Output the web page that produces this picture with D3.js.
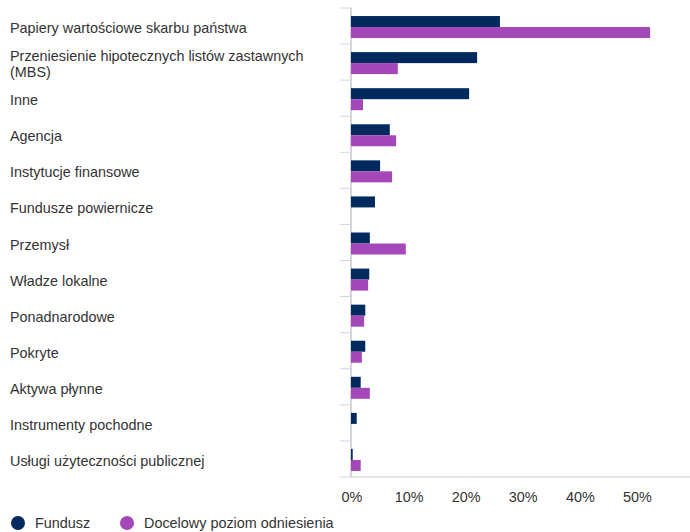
<!DOCTYPE html>
<html>
<head>
<meta charset="utf-8">
<script src="https://cdn.jsdelivr.net/npm/d3@7"></script>
<style>
  body { margin: 0; background: #fff; }
  text { font-family: "Liberation Sans", Arial, sans-serif; }
</style>
</head>
<body>
<svg id="chart" width="690" height="532"></svg>
<script>
// categories and values (percent)
var categories = ["Papiery wartościowe skarbu państwa", "Przeniesienie hipotecznych listów zastawnych (MBS)",
    "Inne", "Agencja", "Instytucje finansowe", "Fundusze powiernicze", "Przemysł", "Władze lokalne",
    "Ponadnarodowe", "Pokryte", "Aktywa płynne", "Instrumenty pochodne", "Usługi użyteczności publicznej"];
var fundValues = [26.1, 22.1, 20.7, 6.8, 5.1, 4.2, 3.3, 3.2, 2.5, 2.5, 1.7, 1.0, 0.3];
var benchValues = [52.4, 8.2, 2.1, 7.9, 7.2, 0, 9.6, 3.0, 2.3, 1.9, 3.3, 0, 1.7];
var seriesNames = ["Fundusz", "Docelowy poziom odniesienia"];
var seriesColors = ["#002a5e", "#a447b9"];
var xTicks = [0, 10, 20, 30, 40, 50];

var svg = d3.select("#chart");
var plotLeft = 351, plotRight = 690, plotTop = 8, plotBottom = 477;

var x = d3.scaleLinear().domain([0, 59.4]).range([plotLeft, plotRight]);
var y = d3.scaleBand().domain(categories).range([plotTop, plotBottom]);

// y axis line + ticks
svg.append("line")
    .attr("x1", plotLeft).attr("x2", plotLeft)
    .attr("y1", plotTop).attr("y2", plotBottom)
    .attr("stroke", "#d6d6d6").attr("stroke-width", 2);
svg.selectAll(".ytick").data(categories.concat(["_end"])).enter().append("line")
    .attr("x1", plotLeft - 11).attr("x2", plotLeft)
    .attr("y1", function(d, i) { return plotTop + i * y.step(); })
    .attr("y2", function(d, i) { return plotTop + i * y.step(); })
    .attr("stroke", "#ccd6eb").attr("stroke-width", 1);

// bottom axis line
svg.append("line")
    .attr("x1", plotLeft).attr("x2", plotRight)
    .attr("y1", plotBottom).attr("y2", plotBottom)
    .attr("stroke", "#cccccc").attr("stroke-width", 1);

// bars
var barH = 11;
var rows = categories.map(function(c, i) { return {cat: c, vals: [fundValues[i], benchValues[i]]}; });
var g = svg.selectAll(".row").data(rows).enter().append("g")
    .attr("transform", function(d) { return "translate(0," + (y(d.cat) + y.bandwidth() / 2 - barH + 1) + ")"; });
g.selectAll("rect").data(function(d) { return d.vals; }).enter().append("rect")
    .attr("x", x(0))
    .attr("y", function(d, i) { return i * barH; })
    .attr("width", function(d) { return x(d) - x(0); })
    .attr("height", barH)
    .attr("fill", function(d, i) { return seriesColors[i]; });

// category labels with wrapping
svg.selectAll(".lab").data(categories).enter().append("text")
    .attr("class", "lab")
    .attr("x", 10)
    .attr("font-size", 14.4)
    .attr("fill", "#333")
    .each(function(d) {
        var t = d3.select(this);
        var words = d.split(" ");
        var lines = [], line = [];
        var tmp = t.append("tspan");
        words.forEach(function(w) {
            line.push(w);
            tmp.text(line.join(" "));
            if (tmp.node().getComputedTextLength() > 335 && line.length > 1) {
                line.pop();
                lines.push(line.join(" "));
                line = [w];
            }
        });
        lines.push(line.join(" "));
        tmp.remove();
        var lh = 16;
        var cy = y(d) + y.bandwidth() / 2 + 7 - (lines.length - 1) * lh / 2;
        lines.forEach(function(l, i) {
            t.append("tspan").attr("x", 10).attr("y", cy + i * lh).text(l);
        });
    });

// x tick labels
svg.selectAll(".xl").data(xTicks).enter().append("text")
    .attr("x", function(d) { return x(d) + 1; })
    .attr("y", 502)
    .attr("text-anchor", "middle")
    .attr("font-size", 14.4)
    .attr("fill", "#333")
    .text(function(d) { return d + "%"; });

// legend
var legX = [18, 127];
seriesNames.forEach(function(n, i) {
    svg.append("circle").attr("cx", legX[i]).attr("cy", 523).attr("r", 7).attr("fill", seriesColors[i]);
    svg.append("text").attr("x", legX[i] + 17).attr("y", 528)
        .attr("font-size", 14.4).attr("fill", "#333").text(n);
});
</script>
</body>
</html>
